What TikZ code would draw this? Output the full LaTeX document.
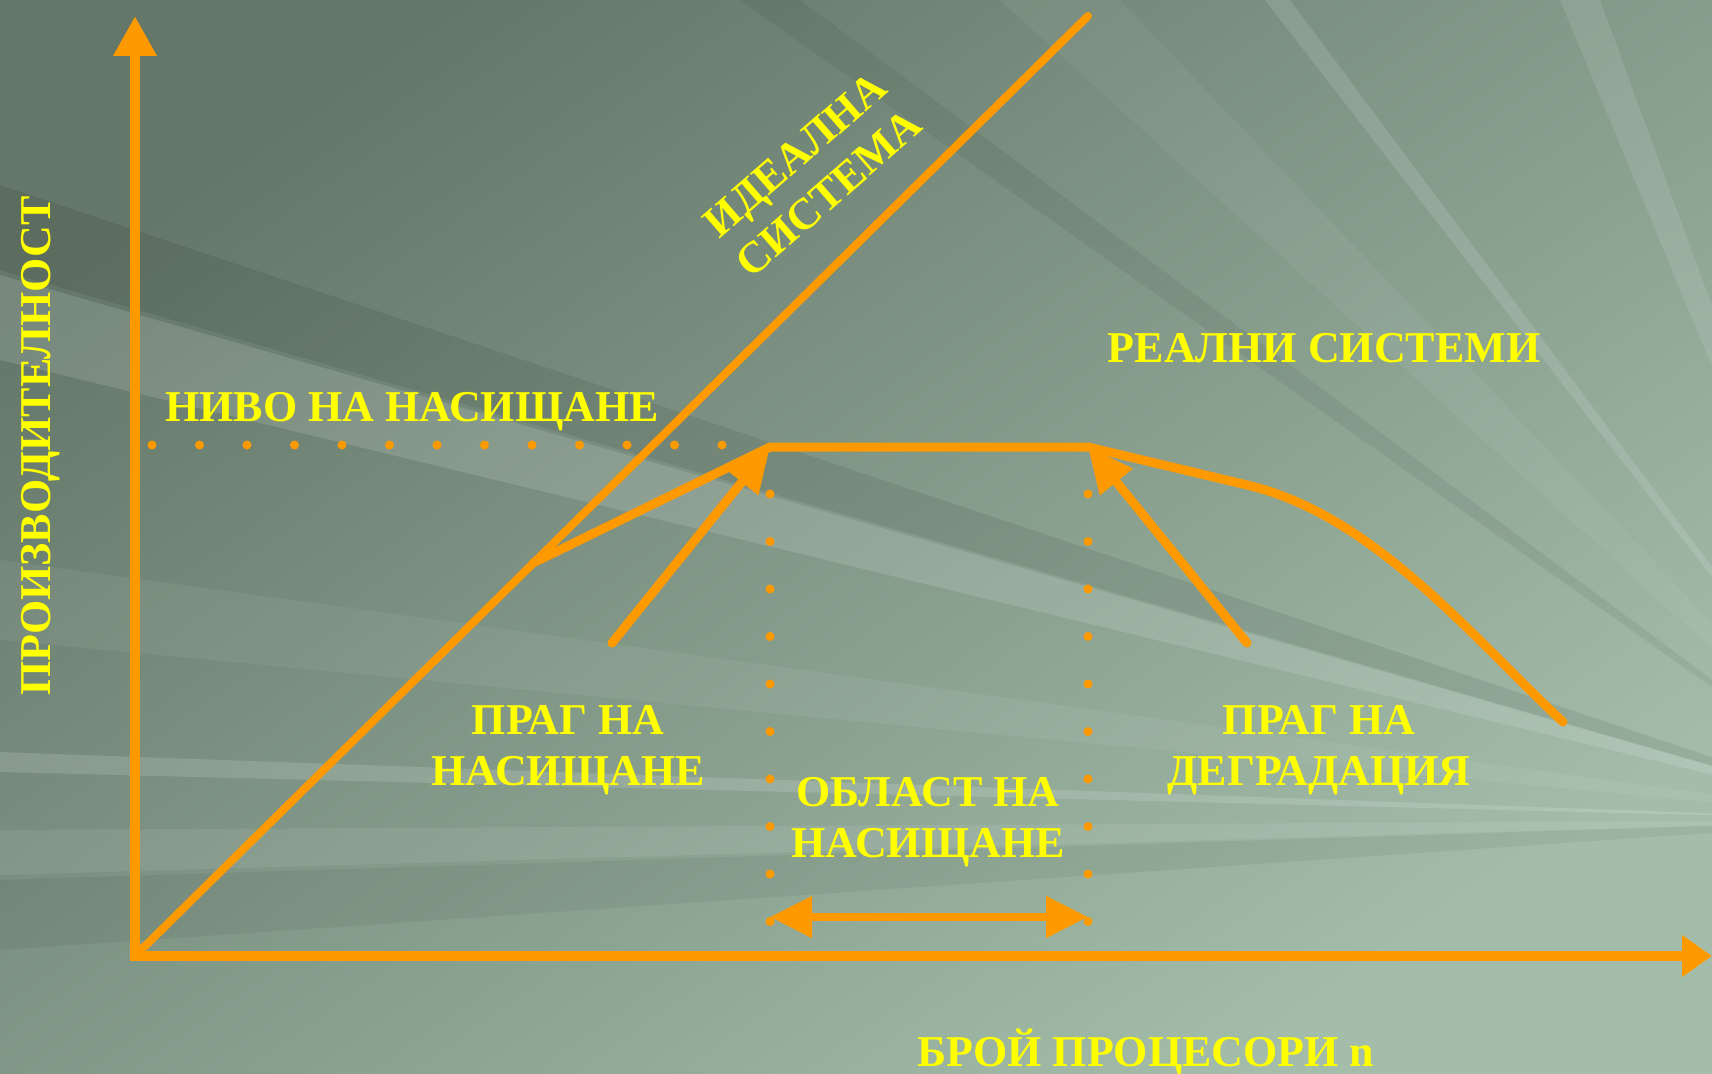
\documentclass[tikz,border=0pt]{standalone}
\usepackage{fontspec}
\setmainfont{Liberation Serif}
\usetikzlibrary{arrows.meta,positioning}
\definecolor{curve}{HTML}{FF9900}
\definecolor{label}{HTML}{FFFF00}
\definecolor{bgdark}{HTML}{647769}
\definecolor{bglight}{HTML}{A4BDAA}

\begin{document}
\begin{tikzpicture}[x=1pt, y=-1pt, align=center,
    txt/.style={text=label, font=\fontsize{44}{51}\selectfont\bfseries, inner sep=0pt},
    axis/.style={draw=curve, line width=10pt, line cap=rect, -{Triangle[length=40pt, width=41pt]}},
    graph/.style={draw=curve, line width=9pt, line cap=round, line join=round},
    pointer/.style={draw=curve, line width=9pt, line cap=round, -{Triangle[length=45pt, width=40pt]}},
    span/.style={draw=curve, line width=8pt, {Triangle[length=42pt, width=40pt]}-{Triangle[length=42pt, width=40pt]}},
    dotline/.style={draw=curve, line width=9pt, line cap=round, dash pattern=on 0pt off 47.5pt}]

    % background with rays
    \useasboundingbox (0,0) rectangle (1712,1073);
    \begin{scope}
        \clip (0,0) rectangle (1712,1073);
        \shade[top color=bgdark, bottom color=bglight, shading angle=35] (0,0) rectangle (1712,1073);
        \coordinate (focus) at (1900,820);
        \foreach \a/\b/\o in {275/360/0.13, 560/640/0.06, 752/772/0.14, 830/875/0.08}
            \fill[white, fill opacity=\o] (focus) -- (0,\a) -- (0,\b) -- cycle;
        \foreach \a/\b/\o in {1000/1120/0.05, 1265/1290/0.12, 1560/1600/0.10}
            \fill[white, fill opacity=\o] (focus) -- (\a,0) -- (\b,0) -- cycle;
        \foreach \a/\b/\o in {185/270/0.08, 880/950/0.05}
            \fill[black, fill opacity=\o] (focus) -- (0,\a) -- (0,\b) -- cycle;
        \fill[black, fill opacity=0.06] (focus) -- (740,0) -- (800,0) -- cycle;
    \end{scope}

    % points of the graph
    \coordinate (O) at (135,956);
    \coordinate (ytip) at (135,16);
    \coordinate (xtip) at (1712,956);
    \coordinate (ideal) at (1088,16);
    \coordinate (knee) at (533,563);
    \coordinate (satL) at (770,447);
    \coordinate (satR) at (1088,447);
    \coordinate (bend) at (1247,485);
    \coordinate (fall) at (1563,722);
    \coordinate (thrS) at (612,643);
    \coordinate (thrD) at (1247,643);
    \coordinate (lvlA) at (152,445);
    \coordinate (lvlB) at (722,445);
    \coordinate (zoneLtop) at (770,494);
    \coordinate (zoneLbot) at (770,922);
    \coordinate (zoneRtop) at (1088,494);
    \coordinate (zoneRbot) at (1088,922);
    \coordinate (spanL) at (770,917);
    \coordinate (spanR) at (1088,917);

    % dotted guides
    \draw[dotline] (lvlA) -- (lvlB);
    \draw[dotline] (zoneLtop) -- (zoneLbot);
    \draw[dotline] (zoneRtop) -- (zoneRbot);

    % axes and curves
    \draw[axis] (O) -- (ytip);
    \draw[axis, -{Triangle[length=30pt, width=40pt]}] (O) -- (xtip);
    \draw[graph, line width=8pt] (O) -- (ideal);
    \draw[graph] (knee) -- (satL) -- (satR) -- (bend) .. controls +(126,30) and +(-95,-89) .. (fall);
    \draw[pointer] (thrS) -- (satL);
    \draw[pointer] (thrD) -- (satR);
    \draw[span] (spanL) -- (spanR);

    % labels
    \node[txt, rotate=90, anchor=base] (perf) at (50,446) {ПРОИЗВОДИТЕЛНОСТ};
    \node[txt, anchor=base] (level) at (412,421) {НИВО НА НАСИЩАНЕ};
    \node[txt, anchor=base] (real) at (1324,362) {РЕАЛНИ СИСТЕМИ};
    \node[txt, rotate=41] (idealtxt) at (812,174) {ИДЕАЛНА\\СИСТЕМА};
    \node[txt] (thrsat) at (568,750) {ПРАГ НА\\НАСИЩАНЕ};
    \node[txt] (zone) at (928,822) {ОБЛАСТ НА\\НАСИЩАНЕ};
    \node[txt] (thrdeg) at (1319,750) {ПРАГ НА\\ДЕГРАДАЦИЯ};
    \node[txt, anchor=base] (count) at (1146,1066) {БРОЙ ПРОЦЕСОРИ n};
\end{tikzpicture}
\end{document}
